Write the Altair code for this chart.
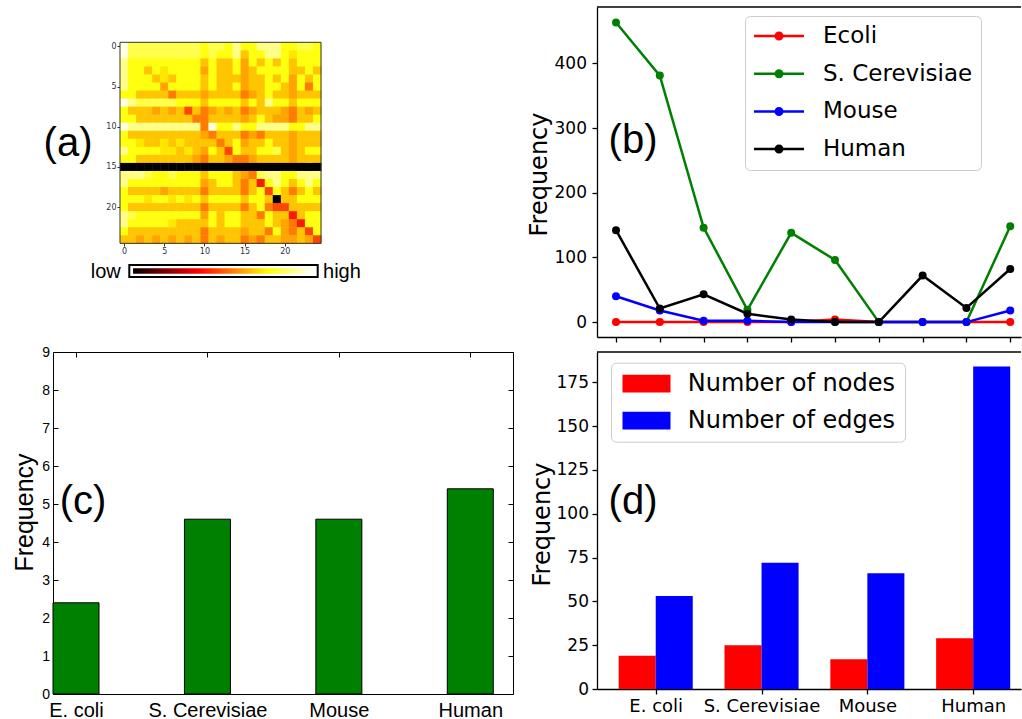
import altair as alt
import pandas as pd

FONT = "DejaVu Sans"
FONT2 = "Liberation Sans"

# ---------------- panel (a): heat map (hot colour map, 0 = black ... 100 = white) -------------
HEAT_LEVELS = {"W": 97, "P": 88, "L": 82, "Y": 76, "y": 71, "G": 66, "g": 61,
               "O": 55, "R": 47, "D": 40, "K": 0}
HEAT_ROWS = [
    "WLLLLLLLLLYLLYPYYPPPYYLLY",
    "WLLLLLLLLLYLYYPGYYPPYyYYY",
    "PYYYYYYYYYGYGGYgYGYGYGYYY",
    "PYYGYyYYYYgYGGYgGYYYYGGYG",
    "PYYYGyGYYYGYGGGgGGYGYgYGY",
    "PYYYYgYYYYGYGGYgGGYYGgYOY",
    "YYGGGGOGGGgGGGGOgGYGGgGGG",
    "WPLLLLLYYYGYYYYGYGPYYGYYY",
    "YGGGgGgGRGOgGgGOgGGGgOGgG",
    "YYGGGGGGGOOGGGGgGYGggOGGY",
    "WPPPPPPPPPOWYYPYYPPPPYYPP",
    "YGGGGGGGGGgOGGGOgOGGGgGGG",
    "YYyGGyGyGGGGOGYgGGYGGgGGG",
    "PYYYYyyGyGgYGRYGGYYLGgGYY",
    "YYGGGGGGGgOGGgOOgGGGGgGGG",
    "KKKKKKKKKKKKKKKKKKKKKKKKK",
    "PPPLYYLYYYGYYYGgOLPPYYPPP",
    "PYYYYYYYYYgGYYGOGDYPYGYPY",
    "YGGGGgGGGGOGGGGOGYRYGOGYG",
    "YYYyYYyYyYGYYYYGYYGKGGYYY",
    "YGGGGGGGGGOGGGGOGYORRGGGG",
    "PLYYYYYYYYgYGYYGGOYGGDGYY",
    "PYYYYYyGGGGYGYYGGGYGgODYY",
    "YGGGGGGGGGOGGGGgGGOYgOGRY",
    "GGgGgGgGgGOGgGGOgOGGggGgR",
]
HEAT_TICKS = [0, 5, 10, 15, 20]
HOT_STOPS = [0, 36.5, 74.6, 100]
HOT_COLORS = ["#000000", "#ff0000", "#ffff00", "#ffffff"]

# ---------------- panel (b) ----------------
B_INDEX = list(range(10))
B_SERIES = ["Ecoli", "S. Cerevisiae", "Mouse", "Human"]
B_COLORS = ["#ff0000", "#008000", "#0000ff", "#000000"]
B_ECOLI = [0, 0, 0, 0, 0, 4, 0, 0, 0, 0]
B_SCER = [463, 381, 146, 19, 138, 96, 0, 0, 0, 148]
B_MOUSE = [40, 18, 2, 2, 0, 0, 0, 0, 0, 18]
B_HUMAN = [142, 21, 43, 13, 4, 0, 0, 72, 22, 82]
B_YTICKS = [0, 100, 200, 300, 400]

# ---------------- panel (c) ----------------
SPECIES = ["E. coli", "S. Cerevisiae", "Mouse", "Human"]
C_VALUES = [2.4, 4.6, 4.6, 5.4]
C_YTICKS = list(range(10))

# ---------------- panel (d) ----------------
D_METRICS = ["Number of nodes", "Number of edges"]
D_COLORS = ["#ff0000", "#0000ff"]
D_NODES = [19, 25, 17, 29]
D_EDGES = [53, 72, 66, 184]
D_YTICKS = [0, 25, 50, 75, 100, 125, 150, 175]

# ---------------- layout sizes ----------------
A_W, A_H = 268, 236
B_W, B_H = 424, 330
C_W, C_H = 460, 342
D_W, D_H = 424, 337

one = pd.DataFrame({"k": [0]})


def panel_label(text, x, y):
    return alt.Chart(pd.DataFrame({"t": [text]})).mark_text(
        font=FONT2, fontSize=40, align="center", baseline="middle", color="black"
    ).encode(x=alt.value(x), y=alt.value(y), text="t:N")


# ================= (a) =================
heat_records = []
for r, row in enumerate(HEAT_ROWS):
    for c, ch in enumerate(row):
        heat_records.append({"r": r, "c": c, "v": HEAT_LEVELS[ch],
                             "x0": c - 0.5, "x1": c + 0.56,
                             "y0": r - 0.5, "y1": r + 0.56})
heat_df = pd.DataFrame(heat_records)

ax_scale = alt.Scale(domain=[-8.833, 24.5], nice=False, zero=False)
ay_scale = alt.Scale(domain=[-4.89, 24.46], nice=False, zero=False, reverse=True)

small_axis = dict(values=HEAT_TICKS, title=None, grid=False, domain=False, tickSize=3,
                  tickColor="#333333", labelColor="#333333", labelFontSize=8,
                  labelPadding=1, labelFlush=False, labelFont=FONT)

heat = alt.Chart(heat_df).mark_rect(strokeWidth=0).encode(
    x=alt.X("x0:Q", scale=ax_scale, axis=alt.Axis(**small_axis)),
    x2="x1:Q",
    y=alt.Y("y0:Q", scale=ay_scale, axis=alt.Axis(offset=-67, **small_axis)),
    y2="y1:Q",
    color=alt.Color("v:Q",
                    scale=alt.Scale(domain=HOT_STOPS, range=HOT_COLORS, interpolate="rgb"),
                    legend=alt.Legend(title=None, orient="none", legendX=79.3, legendY=260.5,
                                      direction="horizontal", gradientLength=182,
                                      gradientThickness=7, padding=0, labelOpacity=0,
                                      labelFontSize=1, gradientStrokeColor="white",
                                      gradientStrokeWidth=1.5)),
)

heat_frame = alt.Chart(pd.DataFrame({"x0": [-0.5], "x1": [24.5], "y0": [-0.5], "y1": [24.5]})).mark_rect(
    fillOpacity=0, stroke="#333333", strokeWidth=1
).encode(x=alt.X("x0:Q", scale=ax_scale), x2="x1:Q", y=alt.Y("y0:Q", scale=ay_scale), y2="y1:Q")

cbar_frame = alt.Chart(pd.DataFrame({"x0": [0.657], "x1": [24.09], "y0": [27.2], "y1": [28.69]})).mark_rect(
    fillOpacity=0, stroke="black", strokeWidth=2
).encode(x=alt.X("x0:Q", scale=ax_scale), x2="x1:Q", y=alt.Y("y0:Q", scale=ay_scale), y2="y1:Q")

low_txt = alt.Chart(pd.DataFrame({"x": [-0.4], "y": [28.8], "t": ["low"]})).mark_text(
    font=FONT2, fontSize=20, align="right", baseline="alphabetic", color="black"
).encode(x=alt.X("x:Q", scale=ax_scale), y=alt.Y("y:Q", scale=ay_scale), text="t:N")
high_txt = alt.Chart(pd.DataFrame({"x": [24.75], "y": [28.8], "t": ["high"]})).mark_text(
    font=FONT2, fontSize=20, align="left", baseline="alphabetic", color="black"
).encode(x=alt.X("x:Q", scale=ax_scale), y=alt.Y("y:Q", scale=ay_scale), text="t:N")

panel_a = alt.layer(heat, heat_frame, cbar_frame, low_txt, high_txt,
                    panel_label("(a)", 15, 137)).properties(width=A_W, height=A_H)

# ================= (b) =================
b_rows = []
for name, vals in zip(B_SERIES, [B_ECOLI, B_SCER, B_MOUSE, B_HUMAN]):
    for i, v in zip(B_INDEX, vals):
        b_rows.append({"series": name, "idx": i, "val": v})
b_df = pd.DataFrame(b_rows)

bx = alt.Scale(domain=[-0.434, 9.246], nice=False, zero=False)
by = alt.Scale(domain=[-23, 487], nice=False, zero=False)
bcol = alt.Scale(domain=B_SERIES, range=B_COLORS)

b_xaxis = alt.Axis(values=B_INDEX, labels=False, title=None, grid=False, domainColor="black",
                   domainWidth=1.3, tickColor="black", tickWidth=1.3, tickSize=5)
b_yaxis = alt.Axis(values=B_YTICKS, title="Frequency", grid=False, domainColor="black",
                   domainWidth=1.3, tickColor="black", tickWidth=1.3, tickSize=5,
                   labelFont=FONT, labelFontSize=17, labelColor="black", labelPadding=5.5,
                   labelFlush=False, titleFont=FONT, titleFontSize=24, titleFontWeight="normal",
                   titleColor="black", titleX=-51, titleY=167, titleBaseline="alphabetic")

common_leg = dict(title=None, orient="none", direction="vertical", symbolSize=400,
                  labelFont=FONT, labelLimit=400)

b_lines = alt.Chart(b_df).mark_line(strokeWidth=2.5).encode(
    x=alt.X("idx:Q", scale=bx, axis=b_xaxis),
    y=alt.Y("val:Q", scale=by, axis=b_yaxis),
    color=alt.Color("series:N", scale=bcol, sort=B_SERIES,
                    legend=alt.Legend(legendX=148, legendY=9, symbolType="M-2.5,0L2.5,0",
                                      symbolStrokeWidth=2.5, labelFontSize=23, labelColor="black",
                                      labelOffset=32.5, symbolOffset=14, rowPadding=13.7,
                                      padding=8.5, strokeColor="#cccccc", fillColor="white",
                                      cornerRadius=5, **common_leg)),
)
b_points = alt.Chart(b_df).mark_circle(size=64, opacity=1).encode(
    x=alt.X("idx:Q", scale=bx, axis=b_xaxis),
    y=alt.Y("val:Q", scale=by, axis=b_yaxis),
    color=alt.Color("series:N", scale=bcol, sort=B_SERIES,
                    legend=alt.Legend(legendX=148, legendY=9,
                                      symbolType="M-0.45,0A0.45,0.45,0,1,1,0.45,0A0.45,0.45,0,1,1,-0.45,0Z",
                                      symbolStrokeWidth=2.5, symbolStrokeColor="transparent",
                                      symbolOpacity=1, labelFontSize=23, labelOpacity=0,
                                      labelOffset=32.5, symbolOffset=14, rowPadding=13.7,
                                      padding=8.5, **common_leg)),
)
b_top = alt.Chart(one).mark_rule(color="black", strokeWidth=1.3).encode(
    x=alt.value(0), x2=alt.value(B_W), y=alt.value(0))
b_origin = alt.Chart(one).mark_rule(opacity=0, strokeWidth=0.01).encode(
    x=alt.value(0), y=alt.value(-7), y2=alt.value(0))

panel_b = alt.layer(b_lines, b_points, b_top, b_origin, panel_label("(b)", 36, 134)).resolve_legend(
    color="independent").properties(width=B_W, height=B_H)

# ================= (c) =================
c_df = pd.DataFrame({"i": list(range(4)), "species": SPECIES, "val": C_VALUES})
c_df["x0"] = c_df["i"]
c_df["x1"] = c_df["i"] + 0.35
c_df["base"] = 0

cx = alt.Scale(domain=[0, 3.5], nice=False, zero=False)
cy = alt.Scale(domain=[0, 9], nice=False)
C_XTICKS = [0.175, 1.175, 2.175, 3.175]
c_label_expr = "['E. coli','S. Cerevisiae','Mouse','Human'][round(datum.value - 0.175)]"

c_bars = alt.Chart(c_df).mark_bar(color="#008000", stroke="black", strokeWidth=1).encode(
    x=alt.X("x0:Q", scale=cx,
            axis=alt.Axis(values=C_XTICKS, labelExpr=c_label_expr, offset=-5, domain=False,
                          tickSize=5, tickColor="black", labelFont=FONT2, labelFontSize=20,
                          labelColor="black", labelPadding=6, title=None, grid=False,
                          labelOverlap=False, labelFlush=False)),
    x2="x1:Q",
    y=alt.Y("val:Q", scale=cy,
            axis=alt.Axis(values=C_YTICKS, offset=-5, domain=False, tickSize=5, tickColor="black",
                          labelFont=FONT2, labelFontSize=14, labelColor="black", labelPadding=3.5,
                          grid=False, labelFlush=False, title="Frequency", titleFont=FONT2,
                          titleFontSize=25, titleFontWeight="normal", titleColor="black",
                          titleX=-25.5, titleY=160, titleBaseline="alphabetic")),
    y2="base:Q",
)
c_ghost = alt.Chart(c_df).mark_bar(opacity=0).encode(
    x=alt.X("x0:Q", scale=cx,
            axis=alt.Axis(orient="top", values=C_XTICKS, labels=False, offset=-5, domain=False,
                          tickSize=5, tickColor="black", title=None, grid=False)),
    x2="x1:Q",
    y=alt.Y("val:Q", scale=cy,
            axis=alt.Axis(orient="right", values=C_YTICKS, labels=False, offset=-5, domain=False,
                          tickSize=5, tickColor="black", title=None, grid=False)),
    y2="base:Q",
)
c_origin = alt.Chart(one).mark_rule(opacity=0, strokeWidth=0.01).encode(
    x=alt.value(-52), x2=alt.value(0), y=alt.value(0))

panel_c = alt.layer(c_bars, c_ghost, c_origin, panel_label("(c)", 30, 150)).resolve_axis(
    x="independent", y="independent").properties(
    width=C_W, height=C_H, view=alt.ViewBackground(stroke="black", strokeWidth=1))

# ================= (d) =================
d_rows = []
for i, sp in enumerate(SPECIES):
    d_rows.append({"species": sp, "metric": D_METRICS[0], "val": D_NODES[i],
                   "x0": i - 0.35, "x1": i, "base": 0})
    d_rows.append({"species": sp, "metric": D_METRICS[1], "val": D_EDGES[i],
                   "x0": i, "x1": i + 0.35, "base": 0})
d_df = pd.DataFrame(d_rows)

dx = alt.Scale(domain=[-0.555, 3.452], nice=False, zero=False)
dy = alt.Scale(domain=[0, 192.3], nice=False, zero=False)
d_label_expr = "['E. coli','S. Cerevisiae','Mouse','Human'][round(datum.value)]"

d_bars = alt.Chart(d_df).mark_bar().encode(
    x=alt.X("x0:Q", scale=dx,
            axis=alt.Axis(values=[0, 1, 2, 3], labelExpr=d_label_expr, title=None, grid=False,
                          domainColor="black", domainWidth=1.3, tickColor="black", tickWidth=1.3,
                          tickSize=5, labelFont=FONT, labelFontSize=18, labelColor="black",
                          labelPadding=3, labelOverlap=False, labelFlush=False)),
    x2="x1:Q",
    y=alt.Y("val:Q", scale=dy, stack=False,
            axis=alt.Axis(values=D_YTICKS, title="Frequency", grid=False, domainColor="black",
                          domainWidth=1.3, tickColor="black", tickWidth=1.3, tickSize=5,
                          labelFont=FONT, labelFontSize=17, labelColor="black", labelPadding=3.5,
                          labelFlush=False, titleFont=FONT, titleFontSize=24,
                          titleFontWeight="normal", titleColor="black", titleX=-48, titleY=172,
                          titleBaseline="alphabetic")),
    y2="base:Q",
    color=alt.Color("metric:N", scale=alt.Scale(domain=D_METRICS, range=D_COLORS), sort=D_METRICS,
                    legend=alt.Legend(legendX=14, legendY=10.7,
                                      symbolType="M-2.4,-0.885L2.4,-0.885L2.4,0.885L-2.4,0.885Z",
                                      symbolStrokeWidth=0, labelFontSize=24, labelColor="black",
                                      labelOffset=29.3, symbolOffset=14.5, rowPadding=13,
                                      padding=9, strokeColor="#cccccc", fillColor="white",
                                      cornerRadius=5, symbolOpacity=1, **common_leg)),
)
d_top = alt.Chart(one).mark_rule(color="black", strokeWidth=1.3).encode(
    x=alt.value(0), x2=alt.value(D_W), y=alt.value(0))

panel_d = alt.layer(d_bars, d_top, panel_label("(d)", 36, 150)).properties(width=D_W, height=D_H)

# ================= assemble =================
chart = alt.concat(
    panel_a, panel_b, panel_c, panel_d,
    columns=2, spacing={"row": 15, "column": 84}, bounds="flush", align="each",
).properties(padding=0).configure(
    font=FONT, background="white",
    view=alt.ViewConfig(stroke="transparent", strokeWidth=0),
)

chart.save("out.html", embed_options={"renderer": "svg", "actions": False})
